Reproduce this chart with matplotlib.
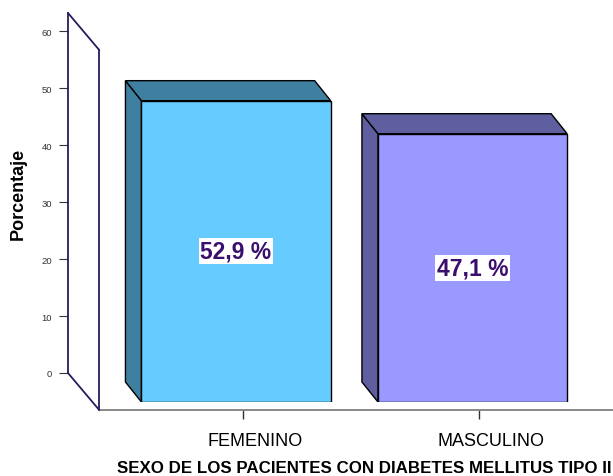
import matplotlib
matplotlib.use('Agg')
import matplotlib.pyplot as plt
from matplotlib.patches import Polygon, ConnectionPatch
from matplotlib.transforms import ScaledTranslation

plt.rcParams['font.family'] = ['Liberation Sans', 'DejaVu Sans']

categorias = ['FEMENINO', 'MASCULINO']
porcentajes = [52.9, 47.1]
etiquetas = ['52,9 %', '47,1 %']
yticks = [0, 10, 20, 30, 40, 50, 60]

color_frente = ['#66CCFF', '#9999FF']
color_lado = ['#3F7F9F', '#5F5F9F']
morado = '#2B1A5C'

W, H, DPI = 613, 477, 100
fig = plt.figure(figsize=(W / DPI, H / DPI), dpi=DPI)
fig.patch.set_facecolor('white')

# plano frontal de las barras (pixeles)
left, bottom, width, height = 92.5, 74, 520.5, 360
ymax = 63.2
xlim = (-0.607, 1.594)


def make_ax(dx, dy):
    a = fig.add_axes([(left + dx) / W, (bottom + dy) / H, width / W, height / H])
    a.set_xlim(xlim)
    a.set_ylim(0, ymax)
    a.patch.set_visible(False)
    for s in a.spines.values():
        s.set_visible(False)
    a.set_xticks([])
    a.set_yticks([])
    return a


# pared del fondo (con la escala)
ax_back = make_ax(-24.5, 29)
ax_back.spines['left'].set_visible(True)
ax_back.spines['left'].set_color(morado)
ax_back.spines['left'].set_linewidth(1.3)
ax_back.set_yticks(yticks)
ax_back.tick_params(axis='y', length=6.5, width=0.8, color='#333333', pad=5,
                    labelsize=6.8, labelcolor='#333333')

# piso / frente
ax_floor = make_ax(6.7, -8)
ax_floor.spines['left'].set_visible(True)
ax_floor.spines['left'].set_color(morado)
ax_floor.spines['left'].set_linewidth(1.3)
ax_floor.spines['bottom'].set_visible(True)
ax_floor.spines['bottom'].set_color('#808080')
ax_floor.spines['bottom'].set_linewidth(1.3)
ax_floor.set_xticks(range(len(categorias)))
ax_floor.set_xticklabels(categorias)
ax_floor.tick_params(axis='x', length=6.5, width=1, color='#333333', pad=9,
                     labelsize=13)
for lbl in ax_floor.get_xticklabels():
    lbl.set_transform(lbl.get_transform() + ScaledTranslation(12 / DPI, 0, fig.dpi_scale_trans))

for yy in (0, ymax):
    con = ConnectionPatch(xyA=(xlim[0], yy), coordsA=ax_back.transData,
                          xyB=(xlim[0], yy), coordsB=ax_floor.transData,
                          color=morado, lw=1.3)
    fig.add_artist(con)

# barras
ax = make_ax(0, 0)
px_x = width / (xlim[1] - xlim[0])
px_y = height / ymax
ddx, ddy = -16 / px_x, 20 / px_y
bw = 0.8

for i, v in enumerate(porcentajes):
    x0, x1 = i - bw / 2, i + bw / 2
    lado = Polygon([(x0, 0), (x0 + ddx, ddy), (x0 + ddx, v + ddy), (x0, v)],
                   closed=True, facecolor=color_lado[i], edgecolor='black', lw=1)
    tapa = Polygon([(x0, v), (x0 + ddx, v + ddy), (x1 + ddx, v + ddy), (x1, v)],
                   closed=True, facecolor=color_lado[i], edgecolor='black', lw=1)
    ax.add_patch(lado)
    ax.add_patch(tapa)
    ax.bar(i, v, width=bw, color=color_frente[i], edgecolor='black', lw=1)
    ax.text(i, v / 2, etiquetas[i], ha='center', va='center', fontsize=16.5,
            fontweight='bold', color='#3A0E6E',
            bbox=dict(facecolor='white', edgecolor='none', pad=1))

fig.text(18 / W, 1 - 194 / H, 'Porcentaje', rotation=90, ha='center', va='center',
         fontsize=13, fontweight='bold')
fig.text(364 / W, 1 - 469 / H, 'SEXO DE LOS PACIENTES CON DIABETES MELLITUS TIPO II',
         ha='center', va='center', fontsize=12.2, fontweight='bold')

fig.savefig('out.png', dpi=DPI)
